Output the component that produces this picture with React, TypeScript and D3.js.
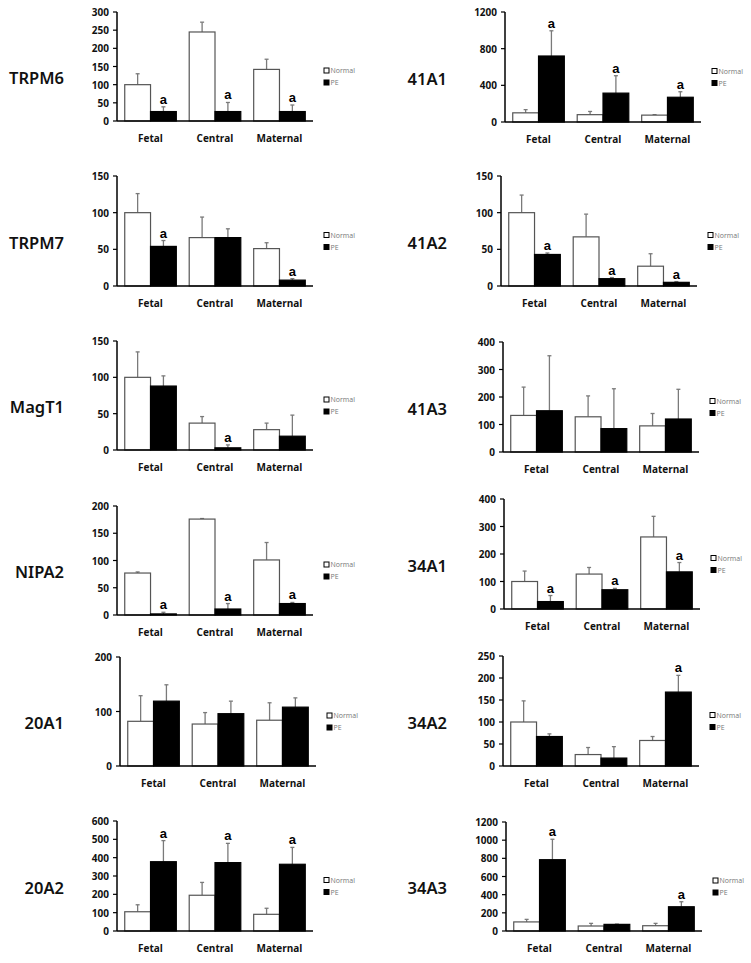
import React from "react";
import * as d3 from "d3";

const categories = ["Fetal", "Central", "Maternal"];
const genes = ["TRPM6", "41A1", "TRPM7", "41A2", "MagT1", "41A3", "NIPA2", "34A1", "20A1", "34A2", "20A2", "34A3"];
const yMax = [300, 1200, 150, 150, 150, 400, 200, 400, 200, 250, 600, 1200];
const yTicks = [
  [0, 50, 100, 150, 200, 250, 300],
  [0, 400, 800, 1200],
  [0, 50, 100, 150],
  [0, 50, 100, 150],
  [0, 50, 100, 150],
  [0, 100, 200, 300, 400],
  [0, 50, 100, 150, 200],
  [0, 100, 200, 300, 400],
  [0, 100, 200],
  [0, 50, 100, 150, 200, 250],
  [0, 100, 200, 300, 400, 500, 600],
  [0, 200, 400, 600, 800, 1000, 1200],
];
const normalMeans = [
  [100, 245, 142], [100, 80, 75], [100, 66, 51], [100, 67, 27],
  [100, 37, 28], [133, 128, 95], [77, 176, 101], [100, 127, 262],
  [82, 77, 84], [100, 26, 58], [105, 195, 91], [100, 55, 58],
];
const normalErrs = [
  [30, 27, 28], [35, 35, 5], [26, 28, 8], [24, 31, 17],
  [35, 9, 9], [103, 76, 45], [2, 1, 32], [38, 24, 75],
  [47, 21, 32], [48, 16, 9], [38, 70, 33], [28, 29, 26],
];
const peMeans = [
  [26, 26, 26], [720, 315, 270], [54, 66, 8], [43, 10, 5],
  [88, 3, 19], [150, 85, 120], [2, 11, 21], [27, 70, 135],
  [119, 96, 108], [67, 18, 168], [378, 373, 364], [785, 73, 267],
];
const peErrs = [
  [13, 25, 18], [275, 190, 60], [8, 12, 2], [2, 1.5, 1],
  [14, 4, 29], [200, 145, 108], [3, 10, 2], [22, 5, 34],
  [30, 23, 17], [6, 26, 38], [115, 105, 92], [225, 3, 55],
];
const peSignificant = [
  [1, 1, 1], [1, 1, 1], [1, 0, 1], [1, 1, 1],
  [0, 1, 0], [0, 0, 0], [1, 1, 1], [1, 1, 1],
  [0, 0, 0], [0, 0, 1], [1, 1, 1], [1, 0, 1],
];
const seriesNames = ["Normal", "PE"];

// layout (pixel positions of each panel's axes)
const panelLayout = [
  { x: 117, top: 12, bottom: 121 },
  { x: 505, top: 12, bottom: 122 },
  { x: 117, top: 176, bottom: 286 },
  { x: 501, top: 176, bottom: 286 },
  { x: 117, top: 341, bottom: 450 },
  { x: 503, top: 342, bottom: 452 },
  { x: 117, top: 506, bottom: 615 },
  { x: 504, top: 499, bottom: 609 },
  { x: 120, top: 657, bottom: 766 },
  { x: 503, top: 656, bottom: 766 },
  { x: 117, top: 821, bottom: 931 },
  { x: 506, top: 822, bottom: 931 },
];

const TICK_FONT = "'Open Sans', 'DejaVu Sans', sans-serif";

function Panel({ i }: { i: number }) {
  const L = panelLayout[i];
  const W = 196;
  const x = d3.scaleBand<string>().domain(categories).range([L.x, L.x + W]).paddingInner(0.2).paddingOuter(0.12);
  const xs = d3.scaleBand<string>().domain(seriesNames).range([0, x.bandwidth()]).padding(0);
  const y = d3.scaleLinear().domain([0, yMax[i]]).range([L.bottom, L.top]);
  const mid = (L.top + L.bottom) / 2;
  const titleRight = L.x < 300 ? 64 : 447;
  const legendX = L.x + 207;
  const series = [
    { name: "Normal", means: normalMeans[i], errs: normalErrs[i], fill: "#ffffff" },
    { name: "PE", means: peMeans[i], errs: peErrs[i], fill: "#000000" },
  ];
  return (
    <g>
      <text x={titleRight} y={mid + 11} textAnchor="end" dominantBaseline="central"
        fontFamily="'Noto Sans', sans-serif" fontWeight={600} fontSize={16.5} fill="#111">{genes[i]}</text>
      {series.map((s) =>
        categories.map((c, j) => {
          const bx = (x(c) as number) + (xs(s.name) as number);
          const bw = xs.bandwidth();
          const yTop = y(s.means[j]);
          const yErr = y(s.means[j] + s.errs[j]);
          const cx = bx + bw / 2;
          return (
            <g key={s.name + c}>
              <line x1={cx} x2={cx} y1={yTop} y2={yErr} stroke="#7a7a7a" strokeWidth={1.3} />
              <line x1={cx - 2} x2={cx + 2} y1={yErr} y2={yErr} stroke="#7a7a7a" strokeWidth={1.3} />
              <rect x={bx} y={yTop} width={bw} height={L.bottom - yTop} fill={s.fill}
                stroke={s.name === "Normal" ? "#555" : "#000"} strokeWidth={1.2} />
              {s.name === "PE" && peSignificant[i][j] ? (
                <text x={cx} y={yErr - 3} textAnchor="middle" fontFamily="'Liberation Sans', Arial, sans-serif"
                  fontWeight={700} fontSize={13} fill="#000">a</text>
              ) : null}
            </g>
          );
        })
      )}
      {/* axes */}
      <line x1={L.x} x2={L.x} y1={L.top} y2={L.bottom} stroke="#000" strokeWidth={1.5} />
      <line x1={L.x} x2={L.x + W} y1={L.bottom} y2={L.bottom} stroke="#000" strokeWidth={1.5} />
      {yTicks[i].map((t) => (
        <g key={t}>
          <line x1={L.x - 4} x2={L.x} y1={y(t)} y2={y(t)} stroke="#000" strokeWidth={1.2} />
          <text x={L.x - 8} y={y(t)} textAnchor="end" dominantBaseline="central" fontFamily={TICK_FONT}
            fontWeight={700} fontSize={10} fill="#111">{t}</text>
        </g>
      ))}
      {categories.map((c) => (
        <text key={c} x={(x(c) as number) + x.bandwidth() / 2} y={L.bottom + 17} textAnchor="middle"
          dominantBaseline="central" fontFamily={TICK_FONT} fontWeight={700} fontSize={10} fill="#111">{c}</text>
      ))}
      {/* legend */}
      <rect x={legendX} y={mid + 4 - 2.5} width={5} height={5} fill="#fff" stroke="#000" strokeWidth={1} />
      <text x={legendX + 6.5} y={mid + 4} dominantBaseline="central" fontFamily={TICK_FONT} fontSize={7} fill="#777">Normal</text>
      <rect x={legendX} y={mid + 16 - 2.5} width={5} height={5} fill="#000" stroke="#000" strokeWidth={1} />
      <text x={legendX + 6.5} y={mid + 16} dominantBaseline="central" fontFamily={TICK_FONT} fontSize={7} fill="#777">PE</text>
    </g>
  );
}

export default function App() {
  return (
    <svg width={751} height={963} style={{ position: "absolute", left: 0, top: 0, background: "#fff" }}>
      <rect x={0} y={0} width={751} height={963} fill="#fff" />
      {genes.map((g, i) => (
        <Panel key={g} i={i} />
      ))}
    </svg>
  );
}
